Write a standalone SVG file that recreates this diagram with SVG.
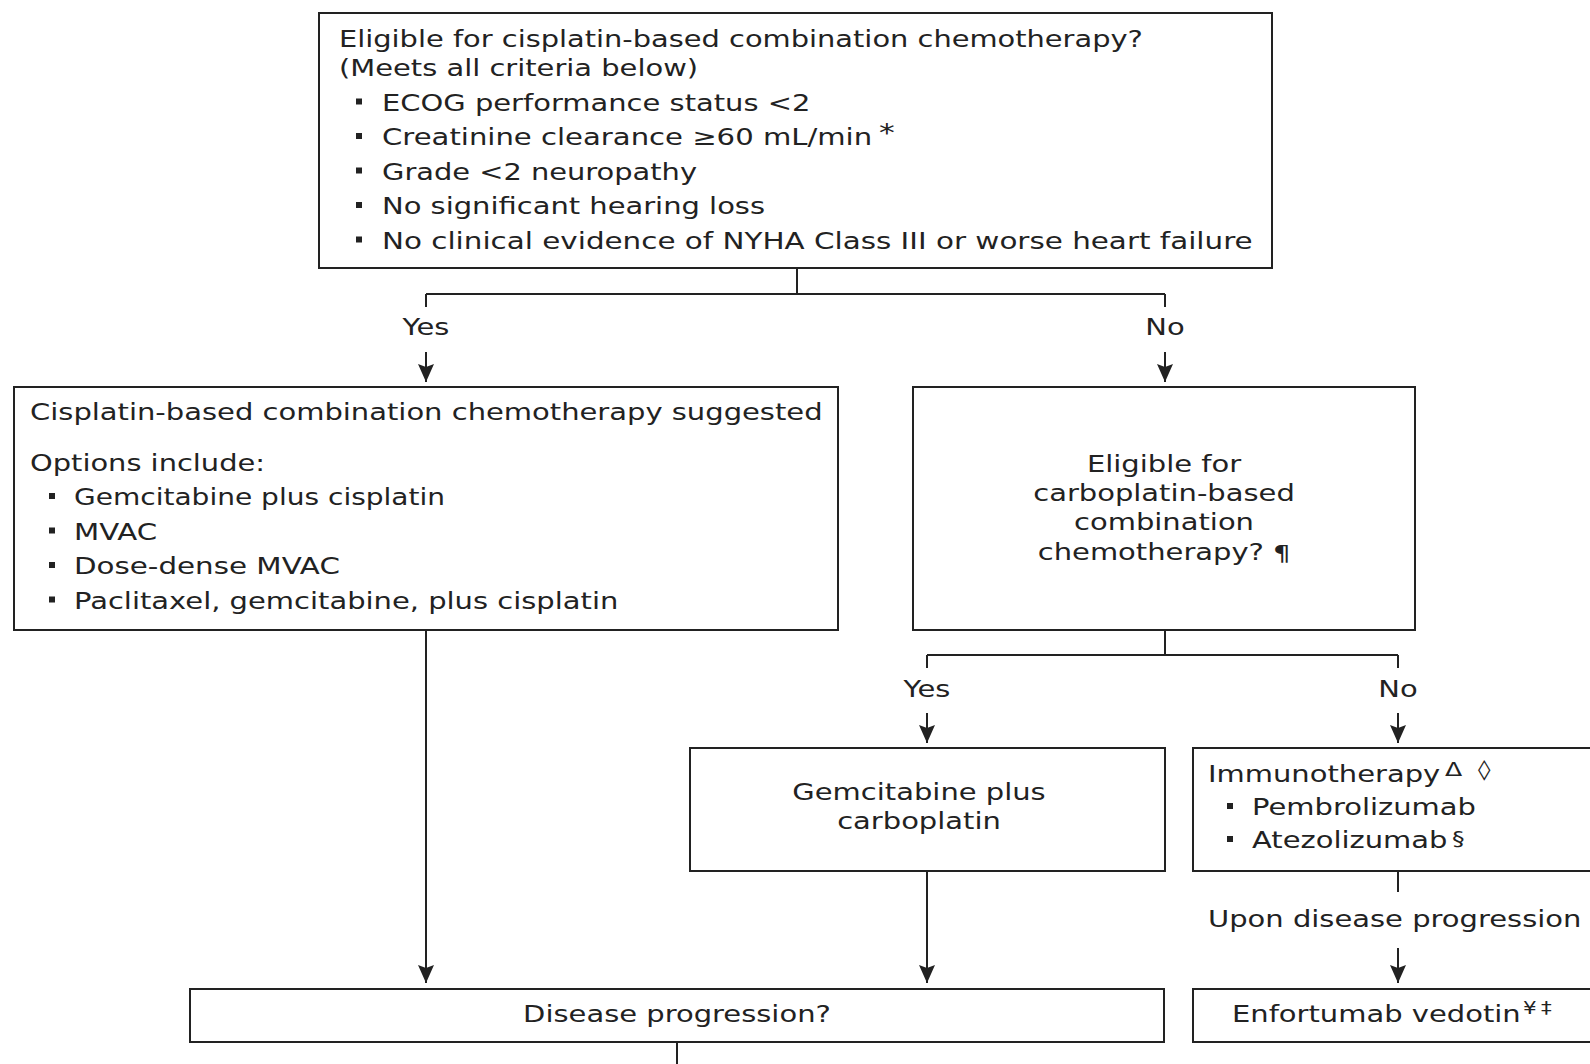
<svg xmlns="http://www.w3.org/2000/svg" width="1590" height="1064" viewBox="0 0 1590 1064">
<defs>
<style>
.box{fill:#fff;stroke:#222;stroke-width:2}
.ln{fill:none;stroke:#222;stroke-width:2}
.t{font-family:"DejaVu Sans",Verdana,sans-serif;font-size:23px;fill:#222}
.m{text-anchor:middle}
.e{text-anchor:end}
.s16{font-size:17px}
.s19{font-size:20px}
.s21{font-size:22px}
.s24{font-size:25px}
.b{fill:#222}
</style>
<marker id="ah" viewBox="0 0 18 16" refX="18" refY="8" markerWidth="18" markerHeight="16" markerUnits="userSpaceOnUse" orient="auto">
<path d="M0,0 L18,8 L0,16 L3,8 Z" fill="#222"/>
</marker>
</defs>
<rect width="1590" height="1064" fill="#fff"/>

<g id="connectors">
<path class="ln" d="M797,268 V294 M426,294 H1165 M426,294 V307 M1165,294 V307"/>
<path class="ln" d="M426,352 V382" marker-end="url(#ah)"/>
<path class="ln" d="M1165,352 V382" marker-end="url(#ah)"/>
<path class="ln" d="M426,630 V983" marker-end="url(#ah)"/>
<path class="ln" d="M1165,630 V655 M927,655 H1398 M927,655 V668 M1398,655 V668"/>
<path class="ln" d="M927,713 V743" marker-end="url(#ah)"/>
<path class="ln" d="M1398,713 V743" marker-end="url(#ah)"/>
<path class="ln" d="M927,871 V983" marker-end="url(#ah)"/>
<path class="ln" d="M1398,871 V892"/>
<path class="ln" d="M1398,948 V983" marker-end="url(#ah)"/>
<path class="ln" d="M677,1042 V1064"/>
<text class="t m" transform="matrix(1.26,0,0,1,426,335)">Yes</text>
<text class="t m" transform="matrix(1.26,0,0,1,1165,335)">No</text>
<text class="t m" transform="matrix(1.26,0,0,1,927,697)">Yes</text>
<text class="t m" transform="matrix(1.26,0,0,1,1398,697)">No</text>
<text class="t" transform="matrix(1.26,0,0,1,1208,927)">Upon disease progression</text>
</g>

<g id="cisplatin-eligible">
<rect class="box" x="319" y="13" width="953" height="255"/>
<text class="t" transform="matrix(1.26,0,0,1,339,47)" textLength="638" lengthAdjust="spacingAndGlyphs">Eligible for cisplatin-based combination chemotherapy?</text>
<text class="t" transform="matrix(1.26,0,0,1,339,76)" textLength="285" lengthAdjust="spacingAndGlyphs">(Meets all criteria below)</text>
<rect class="b" x="356" y="98.5" width="6" height="6"/>
<text class="t" transform="matrix(1.26,0,0,1,382,110.5)" textLength="340" lengthAdjust="spacingAndGlyphs">ECOG performance status &lt;2</text>
<rect class="b" x="356" y="133" width="6" height="6"/>
<text class="t" transform="matrix(1.26,0,0,1,382,145)" textLength="389" lengthAdjust="spacingAndGlyphs">Creatinine clearance ≥60 mL/min</text>
<text class="t s24" transform="matrix(1.26,0,0,1,879,141)">*</text>
<rect class="b" x="356" y="167.5" width="6" height="6"/>
<text class="t" transform="matrix(1.26,0,0,1,382,179.5)" textLength="250" lengthAdjust="spacingAndGlyphs">Grade &lt;2 neuropathy</text>
<rect class="b" x="356" y="202" width="6" height="6"/>
<text class="t" transform="matrix(1.26,0,0,1,382,214)" textLength="304" lengthAdjust="spacingAndGlyphs">No significant hearing loss</text>
<rect class="b" x="356" y="236.5" width="6" height="6"/>
<text class="t" transform="matrix(1.26,0,0,1,382,248.5)" textLength="691" lengthAdjust="spacingAndGlyphs">No clinical evidence of NYHA Class III or worse heart failure</text>
</g>

<g id="cisplatin-suggested">
<rect class="box" x="14" y="387" width="824" height="243"/>
<text class="t" transform="matrix(1.26,0,0,1,30,420)" textLength="629" lengthAdjust="spacingAndGlyphs">Cisplatin-based combination chemotherapy suggested</text>
<text class="t" transform="matrix(1.26,0,0,1,30,471)" textLength="186.5" lengthAdjust="spacingAndGlyphs">Options include:</text>
<rect class="b" x="49" y="493" width="6" height="6"/>
<text class="t" transform="matrix(1.26,0,0,1,74,505)" textLength="294.5" lengthAdjust="spacingAndGlyphs">Gemcitabine plus cisplatin</text>
<rect class="b" x="49" y="527.5" width="6" height="6"/>
<text class="t" transform="matrix(1.26,0,0,1,74,539.5)" textLength="66" lengthAdjust="spacingAndGlyphs">MVAC</text>
<rect class="b" x="49" y="562" width="6" height="6"/>
<text class="t" transform="matrix(1.26,0,0,1,74,574)" textLength="211" lengthAdjust="spacingAndGlyphs">Dose-dense MVAC</text>
<rect class="b" x="49" y="596.5" width="6" height="6"/>
<text class="t" transform="matrix(1.26,0,0,1,74,608.5)" textLength="432" lengthAdjust="spacingAndGlyphs">Paclitaxel, gemcitabine, plus cisplatin</text>
</g>

<g id="carboplatin-eligible">
<rect class="box" x="913" y="387" width="502" height="243"/>
<text class="t m" transform="matrix(1.26,0,0,1,1164,472)">Eligible for</text>
<text class="t m" transform="matrix(1.26,0,0,1,1164,501)">carboplatin-based</text>
<text class="t m" transform="matrix(1.26,0,0,1,1164,530)">combination</text>
<text class="t e" transform="matrix(1.26,0,0,1,1264,560)">chemotherapy?</text>
<text class="t s21" transform="matrix(1.26,0,0,1,1273,561)">¶</text>
</g>

<g id="gem-carbo">
<rect class="box" x="690" y="748" width="475" height="123"/>
<text class="t m" transform="matrix(1.26,0,0,1,919,800)">Gemcitabine plus</text>
<text class="t m" transform="matrix(1.26,0,0,1,919,829)">carboplatin</text>
</g>

<g id="immunotherapy">
<rect class="box" x="1193" y="748" width="420" height="123"/>
<text class="t" transform="matrix(1.26,0,0,1,1208,782)">Immunotherapy</text>
<text class="t s19" transform="matrix(1.26,0,0,1,1445,776)">Δ</text>
<text class="t s19" transform="matrix(1.26,0,0,1,1478,776)">◊</text>
<rect class="b" x="1227" y="803" width="6" height="6"/>
<text class="t" transform="matrix(1.26,0,0,1,1252,815)">Pembrolizumab</text>
<rect class="b" x="1227" y="836" width="6" height="6"/>
<text class="t" transform="matrix(1.26,0,0,1,1252,848)">Atezolizumab</text>
<text class="t s19" transform="matrix(1.26,0,0,1,1452,845)">§</text>
</g>

<g id="disease-progression">
<rect class="box" x="190" y="989" width="974" height="53"/>
<text class="t m" transform="matrix(1.26,0,0,1,677,1022)">Disease progression?</text>
</g>

<g id="enfortumab">
<rect class="box" x="1193" y="989" width="420" height="53"/>
<text class="t" transform="matrix(1.26,0,0,1,1232,1022)">Enfortumab vedotin</text>
<text class="t s16" transform="matrix(1.26,0,0,1,1523,1014)">¥</text>
<text class="t s16" transform="matrix(1.26,0,0,1,1541,1014)">‡</text>
</g>
</svg>
